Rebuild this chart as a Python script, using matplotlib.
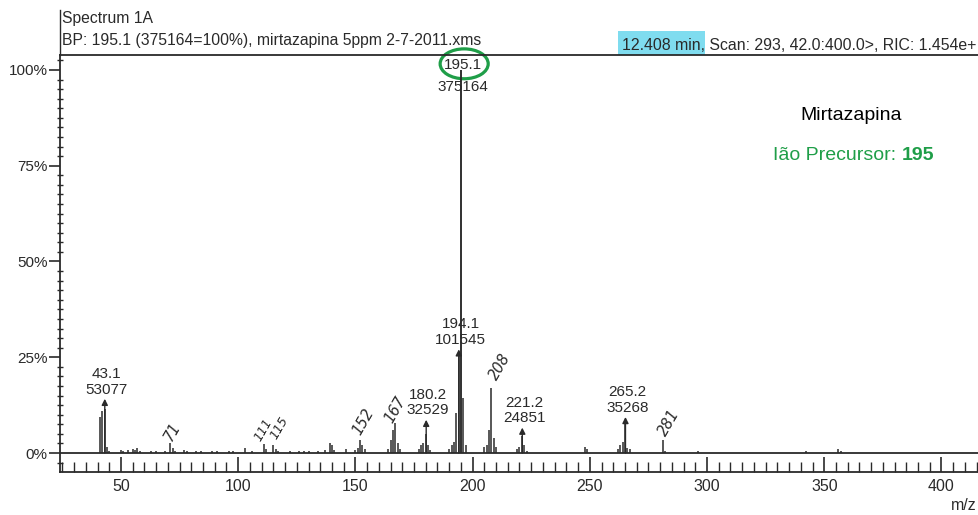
import matplotlib
matplotlib.use("Agg")
import matplotlib.pyplot as plt
from matplotlib.patches import Ellipse, Rectangle
from matplotlib.ticker import MultipleLocator, FixedLocator

plt.rcParams['font.family'] = ['Liberation Sans', 'DejaVu Sans']

# ---- data ----
mz = [41, 42, 43.1, 44, 45, 50, 51, 53, 55, 56, 57, 58, 63, 65, 69, 71, 72, 73, 77, 78,
      82, 84, 89, 91, 96, 98, 103, 106, 111, 112, 115, 116, 117, 122, 126, 128, 130, 134,
      137, 139, 140, 141, 146, 150, 151, 152, 153, 154, 164, 165, 166, 167, 168, 169,
      177, 178, 179, 180.2, 181, 182, 190, 191, 192, 193, 194.1, 195.1, 196, 197,
      205, 206, 207, 208, 209, 210, 219, 220, 221.2, 222, 223, 248, 249,
      262, 263, 264, 265.2, 266, 267, 281, 282, 296, 342, 356, 357]
intensity = [9.5, 11, 11.5, 1.5, 0.6, 0.8, 0.6, 0.7, 1.0, 0.7, 1.2, 0.6, 0.4, 0.5, 0.6, 2.5, 1.3, 0.6, 0.8, 0.5,
             0.4, 0.5, 0.4, 0.6, 0.4, 0.5, 1.2, 0.4, 2.4, 1.0, 2.2, 1.0, 0.5, 0.4, 0.4, 0.5, 0.4, 0.4,
             0.8, 2.6, 2.0, 0.8, 1.0, 0.8, 1.2, 3.4, 2.0, 1.0, 1.0, 3.5, 6.0, 7.8, 2.5, 1.0,
             1.0, 2.0, 2.6, 5.0, 2.0, 0.7, 1.0, 2.0, 3.0, 10.5, 26, 100, 14.4, 2.0,
             1.5, 2.2, 6.0, 17, 4.0, 1.5, 1.0, 1.5, 4.5, 2.0, 0.6, 1.5, 1.0,
             1.0, 2.2, 3.0, 8.5, 1.2, 1.0, 3.5, 0.6, 0.5, 0.5, 1.1, 0.5]

labeled_mz = [43.1, 180.2, 194.1, 221.2, 265.2]
labeled_counts = [53077, 32529, 101545, 24851, 35268]
base_mz = 195.1
base_counts = 375164

hand_labels = ["71", "111", "115", "152", "167", "208", "281"]
hand_x = [71.8, 110.8, 117.4, 153.4, 166.9, 211.8, 283.6]
hand_y = [5.5, 6.0, 6.5, 8.2, 11.2, 22.5, 7.8]
hand_size = [10.5, 9, 9, 10.5, 10.5, 10.5, 10.5]

yticks = [0, 25, 50, 75, 100]
ytick_labels = ["0%", "25%", "50%", "75%", "100%"]
xticks = [50, 100, 150, 200, 250, 300, 350, 400]

ink = '#2a2a2a'
green = '#1f9e48'

fig = plt.figure(figsize=(9.79, 5.15), dpi=100)
ax = fig.add_axes([60/979, 1 - 472/515, 1 - 60/979, (472 - 55)/515])
ax.set_xlim(24, 416)
ax.set_ylim(-4.96, 103.9)

ax.vlines(mz, 0, intensity, color=ink, lw=1.1)
ax.axhline(0, color=ink, lw=1.3)

for m, c in zip(labeled_mz, labeled_counts):
    pct = c / base_counts * 100
    ax.annotate('', xy=(m, pct), xytext=(m, 0),
                arrowprops=dict(arrowstyle='-|>', color=ink, lw=1.0, mutation_scale=9,
                                shrinkA=0, shrinkB=0))
    ax.text(m + 0.8, pct + 0.6, f"{m}\n{c}", ha='center', va='bottom', fontsize=11,
            color=ink, linespacing=1.15)

ax.vlines([base_mz], 0, 100, color=ink, lw=1.1)
ax.text(base_mz + 0.7, 101.2, f"{base_mz}", ha='center', va='center', fontsize=11, color=ink)
ax.text(base_mz + 0.7, 95.6, f"{base_counts}", ha='center', va='center', fontsize=11, color=ink)
ax.add_patch(Ellipse((196.4, 101.6), 20.5, 7.8, fill=False, ec=green, lw=2.3, clip_on=False))

for t, x, y, s in zip(hand_labels, hand_x, hand_y, hand_size):
    ax.text(x, y, t, rotation=60, ha='center', va='center', fontsize=s,
            style='italic', color=ink, family=['DejaVu Sans'])

# axes styling
ax.spines['right'].set_visible(False)
for s in ['left', 'bottom', 'top']:
    ax.spines[s].set_color(ink)
    ax.spines[s].set_linewidth(1.3)

ax.yaxis.set_major_locator(FixedLocator(yticks))
ax.set_yticklabels(ytick_labels)
ax.yaxis.set_minor_locator(MultipleLocator(2.5))
ax.tick_params(axis='y', which='major', direction='out', length=8, width=1.2,
               labelsize=11, colors=ink, pad=1)
ax.tick_params(axis='y', which='minor', direction='inout', length=5, width=1.0, colors=ink)

ax.xaxis.set_major_locator(FixedLocator(xticks))
ax.xaxis.set_minor_locator(MultipleLocator(5))
ax.tick_params(axis='x', which='major', direction='in', length=11, width=1.2,
               labelsize=11.5, colors=ink, pad=5)
ax.tick_params(axis='x', which='minor', direction='in', length=7, width=1.0, colors=ink)
ax.tick_params(axis='x', top=False, which='both')

# header texts
fig.text(62/979, 1 - 18/515, "Spectrum 1A", fontsize=11.3, color=ink, va='center', ha='left')
fig.text(62/979, 1 - 40/515, "BP: 195.1 (375164=100%), mirtazapina 5ppm 2-7-2011.xms",
         fontsize=11.3, color=ink, va='center', ha='left')
fig.add_artist(plt.Line2D([60/979, 60/979], [1 - 10/515, 1 - 55/515], color=ink, lw=1.0))
fig.add_artist(Rectangle((618/979, 1 - 63/515), 87/979, 32/515, transform=fig.transFigure,
                         color='#7fdcef', lw=0, zorder=0))
fig.text(622/979, 1 - 46/515, "12.408 min, Scan: 293, 42.0:400.0>, RIC: 1.454e+",
         fontsize=11.4, color=ink, va='center', ha='left')

fig.text(851/979, 1 - 116/515, "Mirtazapina", fontsize=14, color='black', ha='center', va='center')
t1 = fig.text(773/979, 1 - 155/515, "Ião Precursor: ", fontsize=14, color=green, ha='left', va='center')
fig.canvas.draw()
bb = t1.get_window_extent()
fig.text(bb.x1 / fig.bbox.width, 1 - 155/515, "195", fontsize=14, color=green,
         fontweight='bold', ha='left', va='center')

fig.text(977/979, 1 - 505/515, "m/z", fontsize=11.5, color=ink, ha='right', va='center')

fig.savefig("out.png", dpi=100)
